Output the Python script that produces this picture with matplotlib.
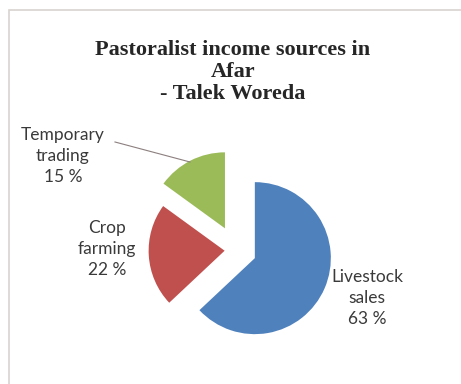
import matplotlib.pyplot as plt
from matplotlib.patches import Rectangle

# income shares, Talek Woreda (Afar)
sources = ["Livestock\nsales", "Crop\nfarming", "Temporary\ntrading"]
shares = [63, 22, 15]
colors = ["#4F81BD", "#C0504D", "#9BBB59"]
explode = [0.27, 0.15, 0.32]

W, H = 461, 384
R = 76.0          # pie radius in pixels
cx, cy = 236, 250  # pie centre in pixels (from top-left)

fig = plt.figure(figsize=(W / 100, H / 100), dpi=100)
fig.patch.set_facecolor("white")

# thin frame around the chart area
fig.add_artist(Rectangle((9 / W, -0.05), 1.2, 1 - 10 / H + 0.05,
                         transform=fig.transFigure, fill=False,
                         edgecolor="#d8d3cf", linewidth=1.2))

ax = fig.add_axes([0, 0, 1, 1])
ax.pie(shares, colors=colors, explode=explode, startangle=90,
       counterclock=False, radius=1.0,
       wedgeprops=dict(linewidth=0))
ax.set_xlim(-cx / R, (W - cx) / R)
ax.set_ylim(-(H - cy) / R, cy / R)
ax.set_aspect("equal", adjustable="box")
ax.axis("off")


def px(x, y):
    return ((x - cx) / R, (cy - y) / R)


label_pos = [(367, 298), (107, 249), (63, 156)]
for name, val, (lx, ly) in zip(sources, shares, label_pos):
    ax.text(*px(lx, ly), f"{name}\n{val} %", ha="center", va="center",
            fontsize=12.5, family="Lato", color="#3a3a3a", linespacing=1.4)

# leader line for the small slice
x0, y0 = px(115, 142)
x1, y1 = px(190, 162)
ax.plot([x0, x1], [y0, y1], color="#8c7f7f", linewidth=0.8)

fig.text(233 / W, 1 - 72 / H,
         "Pastoralist income sources in\nAfar\n- Talek Woreda",
         ha="center", va="center", fontsize=16, fontweight="bold",
         family="Liberation Serif", color="#262626", linespacing=1.13)

fig.savefig("out.png", dpi=100, facecolor="white")
